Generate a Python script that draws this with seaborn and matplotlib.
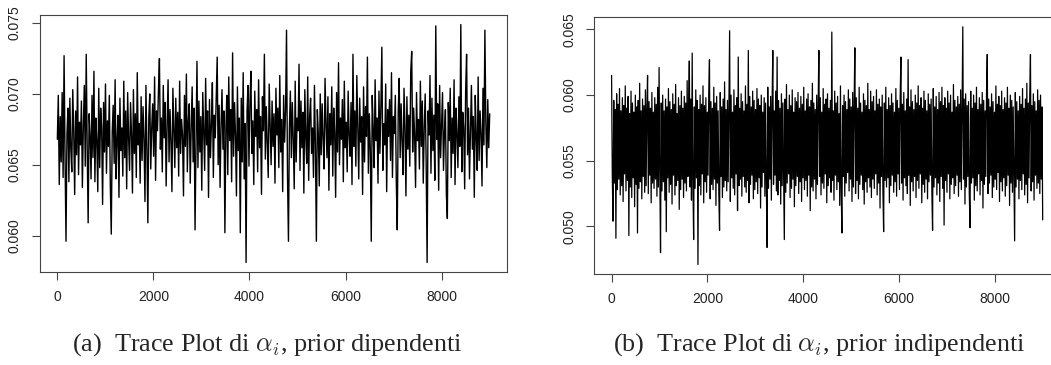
import numpy as np
import pandas as pd
import matplotlib
matplotlib.use("Agg")
import matplotlib.pyplot as plt
import seaborn as sns

# MCMC draws, in units of 1e-4
# prior dipendenti: one draw every 20 iterations
alpha_dip = [
    668, 699, 636, 684, 652, 701, 641, 727, 655, 596, 672, 690, 638, 697, 661, 645, 703, 674, 629, 688, 657, 712, 643, 680, 664,
    695, 634, 677, 706, 649, 728, 662, 609, 686, 671, 640, 699, 655, 716, 638, 683, 667, 631, 704, 648, 690, 676, 622, 694, 659,
    707, 644, 681, 663, 699, 636, 601, 673, 692, 651, 710, 640, 668, 685, 627, 697, 660, 676, 642, 709, 655, 688, 633, 701, 669,
    646, 694, 672, 630, 703, 658, 686, 641, 715, 664, 679, 637, 698, 653, 691, 668, 624, 706, 662, 609, 684, 700, 647, 676, 693,
    656, 712, 639, 688, 674, 702, 725, 661, 683, 645, 706, 669, 694, 635, 678, 710, 652, 689, 666, 631, 704, 676, 648, 697, 662,
    687, 642, 709, 658, 682, 671, 628, 699, 663, 714, 645, 681, 693, 637, 676, 705, 652, 690, 604, 667, 723, 648, 695, 659, 684,
    632, 701, 673, 646, 711, 664, 688, 627, 696, 655, 679, 708, 641, 685, 669, 698, 726, 650, 692, 634, 677, 703, 661, 688, 602,
    675, 699, 643, 712, 667, 689, 638, 729, 656, 694, 671, 628, 705, 660, 683, 602, 697, 652, 715, 640, 679, 581, 688, 706, 649,
    693, 716, 658, 681, 636, 702, 670, 689, 645, 710, 662, 684, 629, 698, 674, 728, 654, 691, 667, 641, 707, 678, 650, 695, 663,
    686, 637, 704, 671, 690, 648, 713, 659, 682, 631, 699, 666, 688, 745, 643, 596, 677, 702, 655, 694, 668, 633, 709, 652, 683,
    674, 721, 646, 695, 662, 687, 630, 703, 669, 651, 712, 639, 684, 697, 658, 676, 641, 706, 663, 596, 689, 672, 635, 700, 657,
    693, 668, 647, 711, 679, 655, 698, 632, 686, 664, 705, 642, 690, 673, 627, 701, 659, 722, 650, 683, 668, 696, 638, 709, 662,
    680, 645, 702, 671, 656, 694, 636, 728, 663, 688, 649, 713, 675, 640, 697, 666, 684, 629, 705, 652, 691, 670, 726, 644, 686,
    661, 596, 699, 675, 648, 710, 667, 683, 637, 702, 658, 692, 733, 646, 679, 664, 707, 631, 689, 670, 696, 653, 715, 641, 684,
    672, 699, 638, 604, 687, 711, 655, 693, 666, 643, 704, 677, 628, 698, 661, 685, 649, 716, 730, 659, 690, 672, 634, 701, 667,
    682, 647, 709, 663, 695, 637, 676, 700, 652, 581, 688, 671, 713, 644, 697, 660, 685, 639, 748, 668, 693, 632, 706, 655, 679,
    701, 646, 673, 689, 629, 612, 694, 667, 704, 641, 683, 658, 710, 636, 690, 672, 648, 698, 663, 749, 645, 687, 676, 633, 702,
    728, 657, 690, 640, 675, 706, 661, 684, 627, 699, 669, 646, 712, 653, 688, 672, 635, 704, 664, 745, 679, 648, 696, 662, 686,
]
# prior indipendenti: one draw every 15 iterations
alpha_indip = [
    615, 538, 504, 596, 533, 589, 491, 601, 528, 593, 536, 605, 524, 588, 531, 598, 519, 592, 540, 607,
    527, 590, 535, 599, 493, 586, 530, 603, 522, 594, 537, 587, 515, 600, 532, 591, 495, 596, 529, 609,
    534, 588, 521, 597, 538, 592, 526, 604, 531, 589, 615, 525, 595, 539, 590, 518, 602, 533, 587, 529,
    598, 536, 593, 523, 606, 530, 621, 541, 480, 594, 527, 600, 534, 588, 520, 597, 496, 591, 537, 605,
    526, 595, 532, 589, 517, 601, 539, 593, 524, 608, 531, 586, 535, 598, 513, 592, 528, 603, 536, 590,
    522, 599, 533, 594, 527, 611, 538, 588, 626, 530, 597, 520, 632, 535, 490, 591, 529, 604, 537, 596,
    471, 589, 531, 600, 524, 593, 540, 607, 518, 592, 534, 598, 526, 587, 539, 601, 627, 521, 595, 532,
    590, 528, 606, 536, 594, 516, 599, 533, 588, 525, 497, 602, 538, 591, 522, 597, 530, 610, 535, 589,
    527, 596, 534, 593, 649, 519, 600, 537, 587, 529, 604, 524, 592, 540, 598, 512, 629, 531, 590, 536,
    601, 523, 595, 538, 588, 530, 607, 526, 593, 535, 634, 518, 599, 532, 591, 539, 603, 521, 596, 528,
    589, 534, 605, 525, 597, 537, 592, 514, 600, 530, 587, 541, 598, 523, 594, 533, 484, 606, 529, 591,
    536, 599, 520, 593, 634, 532, 588, 539, 603, 527, 629, 524, 596, 535, 590, 517, 601, 531, 594, 538,
    490, 597, 526, 608, 533, 589, 540, 600, 522, 592, 529, 604, 536, 587, 515, 598, 531, 595, 538, 602,
    525, 590, 534, 599, 519, 593, 537, 606, 528, 588, 535, 597, 523, 601, 539, 591, 512, 596, 530, 609,
    527, 594, 536, 589, 521, 600, 532, 592, 634, 538, 598, 524, 587, 533, 605, 529, 593, 540, 597, 518,
    601, 531, 590, 537, 596, 526, 648, 535, 588, 520, 603, 539, 594, 528, 599, 534, 586, 516, 607, 530,
    495, 592, 538, 600, 523, 595, 533, 589, 541, 604, 527, 597, 536, 591, 519, 602, 530, 593, 636, 525,
    598, 535, 590, 521, 606, 532, 594, 539, 587, 528, 601, 517, 596, 534, 592, 526, 609, 537, 589, 530,
    603, 522, 595, 536, 599, 529, 588, 540, 604, 524, 593, 533, 597, 514, 591, 538, 600, 527, 496, 594,
    535, 606, 530, 589, 537, 598, 518, 592, 531, 601, 539, 594, 526, 587, 534, 605, 523, 596, 540, 590,
    528, 599, 629, 533, 593, 520, 602, 537, 588, 531, 597, 525, 627, 539, 591, 516, 604, 534, 595, 527,
    589, 538, 600, 522, 594, 535, 607, 529, 592, 540, 598, 518, 590, 532, 603, 526, 596, 536, 588, 521,
    601, 534, 593, 539, 597, 527, 497, 605, 530, 591, 537, 599, 524, 589, 533, 602, 519, 595, 538, 606,
    529, 592, 501, 598, 535, 590, 526, 603, 540, 594, 521, 600, 532, 587, 537, 608, 525, 596, 531, 591,
    539, 599, 523, 593, 534, 604, 528, 588, 652, 536, 597, 517, 601, 530, 592, 538, 595, 526, 499, 603,
    533, 590, 537, 600, 520, 594, 531, 606, 527, 589, 540, 598, 524, 593, 535, 602, 514, 596, 532, 588,
    538, 604, 631, 525, 597, 533, 591, 539, 601, 522, 595, 530, 587, 536, 607, 528, 593, 541, 599, 519,
    592, 534, 603, 527, 589, 537, 598, 523, 594, 531, 606, 539, 590, 516, 600, 533, 596, 526, 591, 538,
    489, 602, 530, 595, 536, 588, 521, 599, 535, 593, 528, 605, 540, 590, 524, 597, 532, 609, 518, 594,
    537, 598, 631, 527, 592, 534, 601, 520, 595, 539, 588, 529, 604, 533, 596, 525, 600, 536, 591, 505,
]
n_iter = 9000
x_ticks = [0, 2000, 4000, 6000, 8000]
y_ticks_dip = [0.060, 0.065, 0.070, 0.075]
y_ticks_indip = [0.050, 0.055, 0.060, 0.065]
captions = [r"(a)  Trace Plot di $\alpha_i$, prior dipendenti",
            r"(b)  Trace Plot di $\alpha_i$, prior indipendenti"]

sns.set_style("white")
plt.rcParams["font.family"] = ["Liberation Sans", "DejaVu Sans"]
plt.rcParams["mathtext.fontset"] = "cm"

fig = plt.figure(figsize=(10.51, 3.65), dpi=100)
ax_a = fig.add_axes([0.0381, 0.2548, 0.4443, 0.7041])
ax_b = fig.add_axes([0.5655, 0.2493, 0.4430, 0.7033])


def trace(ax, draws, yticks, lw):
    df = pd.DataFrame({"iter": np.linspace(1, n_iter, len(draws)),
                       "alpha": np.array(draws) * 1e-4})
    sns.lineplot(data=df, x="iter", y="alpha", ax=ax, color="black",
                 linewidth=lw, estimator=None)
    # R style limits: 4% padding on the data range
    lo, hi = df["alpha"].min(), df["alpha"].max()
    pad = 0.04 * (hi - lo)
    ax.set_ylim(lo - pad, hi + pad)
    ax.set_xlim(1 - 0.04 * n_iter, n_iter + 0.04 * n_iter)
    ax.set_xticks(x_ticks)
    ax.set_yticks(yticks)
    ax.set_yticklabels([f"{t:.3f}" for t in yticks], rotation=90, va="center")
    ax.set_xlabel("")
    ax.set_ylabel("")
    for s in ax.spines.values():
        s.set_color("#444444")
        s.set_linewidth(0.8)
    ax.tick_params(direction="out", length=6, width=0.8, color="#444444",
                   labelsize=10, labelcolor="#222222", pad=7,
                   bottom=True, left=True)


trace(ax_a, alpha_dip, y_ticks_dip, 1.0)
trace(ax_b, alpha_indip, y_ticks_indip, 0.9)

fig.text(267 / 1051, 1 - 345 / 365, captions[0], ha="center", va="center",
         fontsize=18.8, family=["Liberation Serif", "DejaVu Serif"])
fig.text(819 / 1051, 1 - 345 / 365, captions[1], ha="center", va="center",
         fontsize=18.8, family=["Liberation Serif", "DejaVu Serif"])

fig.savefig("out.png", dpi=100)
